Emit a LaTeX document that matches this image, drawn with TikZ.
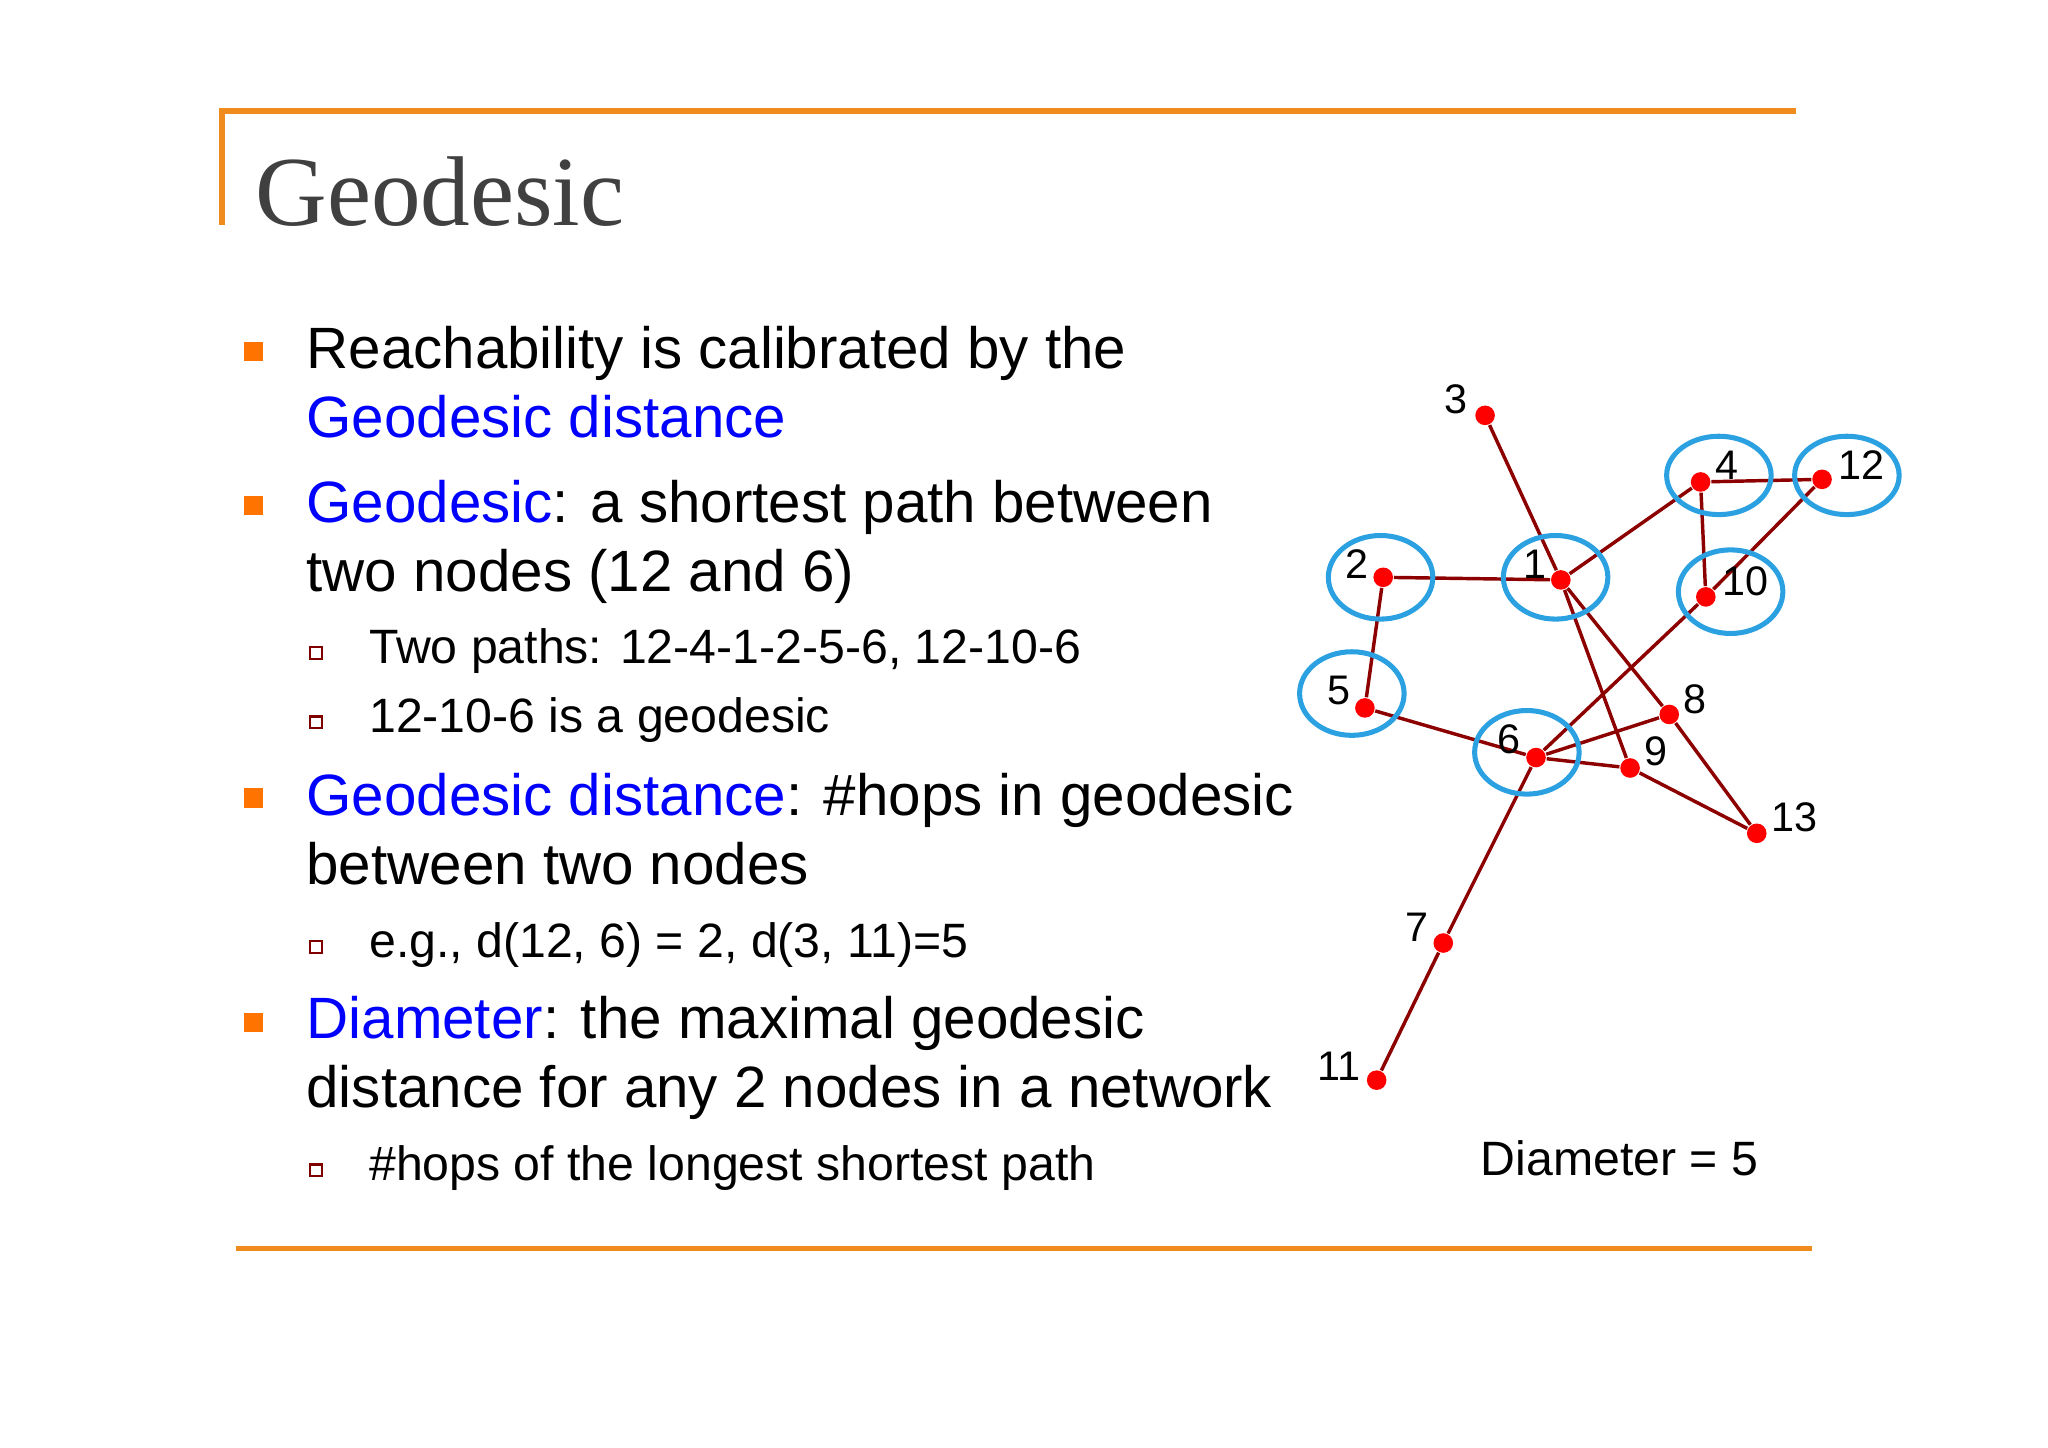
\documentclass[tikz,border=0pt]{standalone}
\usepackage{fontspec}
\setmainfont{Liberation Sans}
\newfontfamily\titlefont{Liberation Serif}
\begin{document}
\begin{tikzpicture}[x=1cm,y=1cm,
  bl/.style={anchor=base west,inner sep=0pt,font=\fontsize{12.7}{15}\selectfont},
  sbl/.style={anchor=base west,inner sep=0pt,font=\fontsize{10.5}{12}\selectfont},
  lb/.style={inner sep=0pt,font=\fontsize{9}{11}\selectfont},
  vtx/.style={circle,fill=red,inner sep=0pt,minimum size=0.15cm},
  edge/.style={draw=red!55!black,line width=0.75pt},
  ring/.style={draw=cyan!80!blue!85!white,line width=1.1pt},
  sq/.style={fill=orange!90!red,minimum size=0.15cm,inner sep=0pt},
  ssq/.style={draw=red!50!black,fill=white,minimum size=0.09cm,inner sep=0pt,line width=0.5pt}]
\useasboundingbox (0,0) rectangle (15.68,11.08);
\definecolor{ln}{RGB}{240,140,30}
\coordinate (t0) at (1.70,10.23); \coordinate (t1) at (13.75,10.23); \coordinate (t2) at (1.70,9.36);
\draw[ln,line width=1.2pt] (t2) -- (t0) -- (t1);
\coordinate (b0) at (1.81,1.52); \coordinate (b1) at (13.87,1.52);
\draw[ln,line width=1.2pt] (b0) -- (b1);
\node[anchor=base west,inner sep=0pt,font=\titlefont\fontsize{21.6}{25}\selectfont,text=black!75] (title) at (1.95,9.35) {Geodesic};
% bullets
\node[sq] (q1) at (1.94,8.39) {};
\node[bl] (l1) at (2.34,8.26) {Reachability is calibrated by the};
\node[bl,text=blue] (l2) at (2.34,7.73) {Geodesic distance};
\node[sq] (q2) at (1.94,7.21) {};
\node[bl] (l3) at (2.34,7.08) {\textcolor{blue}{Geodesic}: a shortest path between};
\node[bl] (l4) at (2.34,6.55) {two nodes (12 and 6)};
\node[ssq] (s1) at (2.42,6.08) {};
\node[sbl] (l5) at (2.82,6.00) {Two paths: 12-4-1-2-5-6, 12-10-6};
\node[ssq] (s2) at (2.42,5.55) {};
\node[sbl] (l6) at (2.82,5.47) {12-10-6 is a geodesic};
\node[sq] (q3) at (1.94,4.97) {};
\node[bl] (l7) at (2.34,4.84) {\textcolor{blue}{Geodesic distance}: \#hops in geodesic};
\node[bl] (l8) at (2.34,4.31) {between two nodes};
\node[ssq] (s3) at (2.42,3.83) {};
\node[sbl] (l9) at (2.82,3.75) {e.g., d(12, 6) = 2, d(3, 11)=5};
\node[sq] (q4) at (1.94,3.25) {};
\node[bl] (l10) at (2.34,3.13) {\textcolor{blue}{Diameter}: the maximal geodesic};
\node[bl] (l11) at (2.34,2.60) {distance for any 2 nodes in a network};
\node[ssq] (s4) at (2.42,2.12) {};
\node[sbl] (l12) at (2.82,2.04) {\#hops of the longest shortest path};
\node[sbl] (dia) at (11.33,2.08) {Diameter = 5};
% graph
\node[vtx] (n3) at (11.37,7.90) {};
\node[vtx] (n4) at (13.02,7.39) {};
\node[vtx] (n12) at (13.95,7.41) {};
\node[vtx] (n2) at (10.59,6.66) {};
\node[vtx] (n1) at (11.95,6.64) {};
\node[vtx] (n10) at (13.06,6.51) {};
\node[vtx] (n5) at (10.45,5.66) {};
\node[vtx] (n8) at (12.78,5.61) {};
\node[vtx] (n6) at (11.76,5.28) {};
\node[vtx] (n9) at (12.48,5.20) {};
\node[vtx] (n13) at (13.45,4.70) {};
\node[vtx] (n7) at (11.05,3.86) {};
\node[vtx] (n11) at (10.54,2.81) {};
\foreach \a/\b in {n3/n1,n2/n1,n1/n4,n4/n12,n4/n10,n12/n10,n10/n6,n1/n9,n1/n8,n2/n5,n5/n6,n6/n8,n6/n9,n9/n13,n8/n13,n6/n7,n7/n11}
  \draw[edge] (\a) -- (\b);
\node[lb] (L3) at (11.15,8.02) {3};
\node[lb] (L4) at (13.22,7.52) {4};
\node[lb] (L12) at (14.25,7.52) {12};
\node[lb] (L2) at (10.39,6.76) {2};
\node[lb] (L1) at (11.75,6.76) {1};
\node[lb] (L10) at (13.36,6.63) {10};
\node[lb] (L5) at (10.25,5.79) {5};
\node[lb] (L8) at (12.98,5.73) {8};
\node[lb] (L6) at (11.55,5.42) {6};
\node[lb] (L9) at (12.68,5.33) {9};
\node[lb] (L13) at (13.74,4.82) {13};
\node[lb] (L7) at (10.85,3.98) {7};
\node[lb] (L11) at (10.25,2.92) {11};
\draw[ring] (13.16,7.44) ellipse (0.40 and 0.30);
\draw[ring] (14.14,7.44) ellipse (0.40 and 0.30);
\draw[ring] (10.57,6.66) ellipse (0.40 and 0.32);
\draw[ring] (11.91,6.66) ellipse (0.40 and 0.32);
\draw[ring] (13.25,6.55) ellipse (0.40 and 0.32);
\draw[ring] (10.35,5.77) ellipse (0.40 and 0.32);
\draw[ring] (11.69,5.32) ellipse (0.40 and 0.32);
\end{tikzpicture}
\end{document}
